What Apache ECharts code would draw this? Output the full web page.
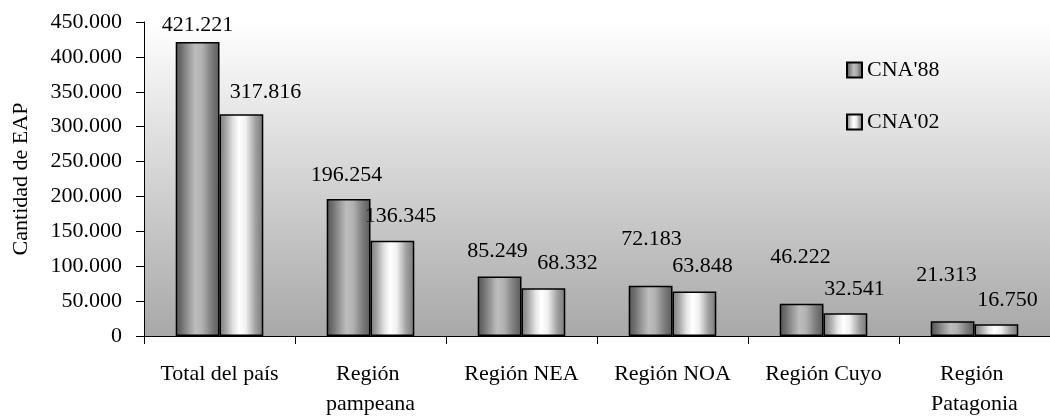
<!DOCTYPE html>
<html>
<head>
<meta charset="utf-8">
<script src="https://cdn.jsdelivr.net/npm/echarts@6/dist/echarts.min.js"></script>
<style>
  html, body { margin: 0; padding: 0; background: #ffffff; }
  #chart { width: 1050px; height: 419px; }
</style>
</head>
<body>
<div id="chart"></div>
<script>
// Explotaciones agropecuarias (EAP) por región, censos 1988 y 2002
const categories = ['Total del país', 'Región pampeana', 'Región NEA', 'Región NOA', 'Región Cuyo', 'Región Patagonia'];
const seriesNames = ["CNA'88", "CNA'02"];
const cna88 = [421221, 196254, 85249, 72183, 46222, 21313];
const cna02 = [317816, 136345, 68332, 63848, 32541, 16750];
const yTicks = [0, 50000, 100000, 150000, 200000, 250000, 300000, 350000, 400000, 450000];

// label nudges [dx, dy] for each value label
const shift88 = [[0, -1], [-2, -8], [-2, -9], [1, -30], [-1, -31], [-6, -30]];
const shift02 = [[24, -6], [8, -9], [24, -9], [8, -9], [9, -8], [11, -8]];

const FONT = '"Liberation Serif", "Times New Roman", serif';

function fmt(v) {
  return String(v).replace(/\B(?=(\d{3})+(?!\d))/g, '.');
}

function withLabels(values, shifts) {
  return values.map((v, i) => ({ value: v, label: { offset: shifts[i] } }));
}

const grad88 = new echarts.graphic.LinearGradient(0, 0, 1, 0, [
  { offset: 0, color: '#555555' },
  { offset: 0.12, color: '#6c6c6c' },
  { offset: 0.3, color: '#9a9a9a' },
  { offset: 0.45, color: '#bdbdbd' },
  { offset: 0.6, color: '#b2b2b2' },
  { offset: 0.82, color: '#7c7c7c' },
  { offset: 1, color: '#5a5a5a' }
]);
const grad02 = new echarts.graphic.LinearGradient(0, 0, 1, 0, [
  { offset: 0, color: '#7a7a7a' },
  { offset: 0.15, color: '#a6a6a6' },
  { offset: 0.32, color: '#e4e4e4' },
  { offset: 0.45, color: '#ffffff' },
  { offset: 0.6, color: '#f0f0f0' },
  { offset: 0.82, color: '#a0a0a0' },
  { offset: 1, color: '#787878' }
]);
const plotBg = new echarts.graphic.LinearGradient(0, 0, 0, 1, [
  { offset: 0, color: '#ffffff' },
  { offset: 1, color: '#a8a8a8' }
]);

const chart = echarts.init(document.getElementById('chart'), null, { renderer: 'canvas' });

const labelStyle = {
  show: true,
  position: 'top',
  distance: 5,
  color: '#000',
  fontFamily: FONT,
  fontSize: 22,
  formatter: p => fmt(p.value)
};

chart.setOption({
  animation: false,
  backgroundColor: '#ffffff',
  textStyle: { fontFamily: FONT, color: '#000' },
  grid: {
    left: 144,
    top: 22,
    width: 909,
    bottom: 82,
    show: true,
    backgroundColor: plotBg,
    borderWidth: 0
  },
  legend: {
    orient: 'vertical',
    left: 841,
    top: 54,
    icon: 'rect',
    itemWidth: 15,
    itemHeight: 15,
    itemGap: 30,
    data: seriesNames,
    textStyle: { fontFamily: FONT, fontSize: 22, color: '#000' }
  },
  xAxis: {
    type: 'category',
    data: categories,
    boundaryGap: true,
    axisLine: { lineStyle: { color: '#000', width: 1 } },
    axisTick: { show: true, length: 8, inside: false, lineStyle: { color: '#000' } },
    axisLabel: {
      interval: 0,
      margin: 23,
      width: 140,
      overflow: 'break',
      lineHeight: 30,
      fontFamily: FONT,
      fontSize: 22,
      color: '#000'
    }
  },
  yAxis: {
    type: 'value',
    min: yTicks[0],
    max: yTicks[yTicks.length - 1],
    interval: yTicks[1] - yTicks[0],
    name: 'Cantidad de EAP',
    nameLocation: 'middle',
    nameGap: 112,
    nameTextStyle: { fontFamily: FONT, fontSize: 22, color: '#000' },
    axisLine: { show: true, lineStyle: { color: '#000', width: 1 } },
    axisTick: { show: true, length: 8, lineStyle: { color: '#000' } },
    splitLine: { show: false },
    axisLabel: {
      margin: 22,
      fontFamily: FONT,
      fontSize: 22,
      color: '#000',
      formatter: v => fmt(v)
    }
  },
  series: [
    {
      name: seriesNames[0],
      type: 'bar',
      barGap: '0%',
      barCategoryGap: '42%',
      data: withLabels(cna88, shift88),
      itemStyle: { color: grad88, borderColor: '#000', borderWidth: 1.5 },
      label: labelStyle
    },
    {
      name: seriesNames[1],
      type: 'bar',
      barGap: '0%',
      barCategoryGap: '42%',
      data: withLabels(cna02, shift02),
      itemStyle: { color: grad02, borderColor: '#000', borderWidth: 1.5 },
      label: labelStyle
    }
  ]
});
</script>
</body>
</html>
